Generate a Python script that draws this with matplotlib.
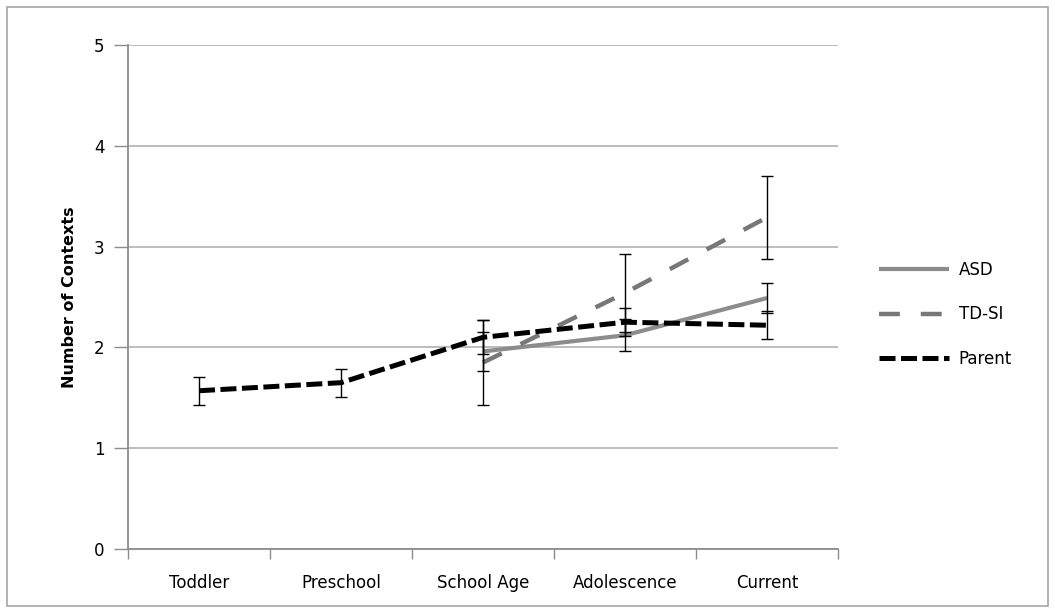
import matplotlib.pyplot as plt
from matplotlib.patches import Rectangle
import numpy as np

# Stages on the x axis
stages = ['Toddler', 'Preschool', 'School Age', 'Adolescence', 'Current']

asd_mean = [None, None, 1.96, 2.12, 2.49]
asd_err = [None, None, 0.19, 0.16, 0.15]
tdsi_mean = [None, None, 1.85, 2.54, 3.29]
tdsi_err = [None, None, 0.42, 0.39, 0.41]
parent_mean = [1.57, 1.65, 2.10, 2.25, 2.22]
parent_err = [0.14, 0.14, 0.17, 0.14, 0.14]

y_ticks = [0, 1, 2, 3, 4, 5]


def clean(mean, err):
    idx = [i for i, v in enumerate(mean) if v is not None]
    return np.array(idx), np.array([mean[i] for i in idx]), np.array([err[i] for i in idx])


fig = plt.figure(figsize=(10.55, 6.13), dpi=100)
fig.patches.append(Rectangle((7 / 1055, 7 / 613), 1041 / 1055, 599 / 613,
                             transform=fig.transFigure, fill=False,
                             edgecolor='#a6a6a6', linewidth=1.2))
ax = fig.add_axes([128 / 1055, 64 / 613, 710 / 1055, 504 / 613])

series = [
    ('ASD', asd_mean, asd_err, dict(color='#8c8c8c', linewidth=3, linestyle='-')),
    ('TD-SI', tdsi_mean, tdsi_err, dict(color='#777777', linewidth=3.2, linestyle=(0, (4.7, 4.7)))),
    ('Parent', parent_mean, parent_err, dict(color='black', linewidth=3.6, linestyle=(0, (3.2, 1.1)))),
]

for name, mean, err, style in series:
    x, m, e = clean(mean, err)
    ax.plot(x, m, label=name, zorder=3, solid_capstyle='butt', dash_capstyle='butt', **style)

for name, mean, err, style in series:
    x, m, e = clean(mean, err)
    ax.errorbar(x, m, yerr=e, fmt='none', ecolor='black', elinewidth=1,
                capsize=4, capthick=1, zorder=4)

ax.set_xlim(-0.5, len(stages) - 0.5)
ax.set_ylim(0, 5)
ax.set_yticks(y_ticks)
ax.set_xticks(range(len(stages)))
ax.set_xticklabels(stages, fontsize=12)
ax.tick_params(axis='x', length=0, pad=18)
ax.set_xticks(np.arange(-0.5, len(stages)), minor=True)
ax.tick_params(axis='x', which='minor', length=7, color='#8c8c8c', width=1)
ax.tick_params(axis='y', length=10, color='#8c8c8c', width=1, labelsize=12, pad=7)

ax.grid(axis='y', color='#b8b8b8', linewidth=1.3)
ax.set_axisbelow(True)
for s in ['top', 'right']:
    ax.spines[s].set_visible(False)
ax.spines['left'].set_color('#8c8c8c')
ax.spines['bottom'].set_color('#8c8c8c')
ax.spines['left'].set_linewidth(1.3)
ax.spines['bottom'].set_linewidth(1.3)

ax.set_ylabel('Number of Contexts', fontsize=11.5, fontweight='bold', labelpad=12)

ax.legend(loc='upper left', bbox_to_anchor=(1.049, 0.585), frameon=False,
          fontsize=12, handlelength=4.2, labelspacing=1.6, handletextpad=0.55,
          borderaxespad=0)

fig.savefig('out.png', dpi=100)
